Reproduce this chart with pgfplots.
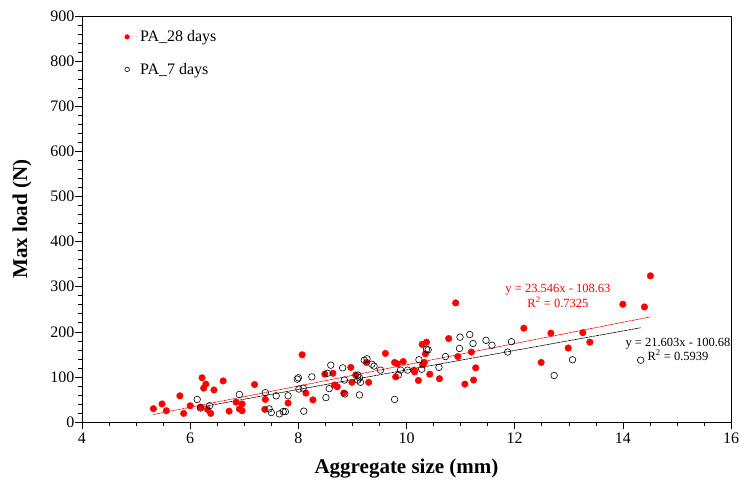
\documentclass[border=0pt]{standalone}
\usepackage{fontspec}
\setmainfont{Liberation Serif}
\usepackage{pgfplots}
\pgfplotsset{compat=1.18}
\begin{document}
\begin{tikzpicture}
\begin{axis}[
  scale only axis,
  width=649bp, height=406bp,
  xmin=4, xmax=16, ymin=0, ymax=900,
  xtick={4,6,...,16}, ytick={0,100,...,900},
  minor x tick num=3, minor y tick num=4,
  tick align=outside,
  major tick length=7bp, minor tick length=4bp,
  xtick pos=bottom, ytick pos=left,
  tick style={black, line width=0.5pt},
  axis line style={line width=0.8pt},
  /pgf/number format/assume math mode=true,
  xticklabel={\rmfamily\pgfmathprintnumber{\tick}},
  yticklabel={\rmfamily\pgfmathprintnumber{\tick}},
  ticklabel style={font=\fontsize{16bp}{18bp}\selectfont},
  yticklabel style={xshift=3bp},
  xlabel={\textbf{Aggregate size (mm)}},
  ylabel={\textbf{Max load (N)}},
  label style={font=\fontsize{21bp}{24bp}\selectfont},
  xlabel style={yshift=-9bp},
  ylabel style={yshift=12bp},
  legend image code/.code={\draw[#1] plot coordinates {(0bp,0bp)}; \path[draw=none] (-3bp,0bp) -- (11bp,0bp);},
  legend style={draw=none, fill=none, at={(axis cs:4.72,877)}, anchor=north west,
    font=\fontsize{16bp}{18bp}\selectfont, row sep=16bp},
  legend cell align=left,
]
\addplot[only marks, mark=*, mark size=3.3bp, draw=red, fill=red, legend image post style={mark size=2.3bp}] coordinates {
(5.32,29.5) (5.48,40) (5.56,25) (5.81,58) (5.88,19) (6.00,36) (6.22,98) (6.29,84)
(6.25,75) (6.19,33) (6.32,28) (6.38,19) (6.44,71) (6.61,91) (6.72,24) (6.85,44)
(6.96,40) (6.91,29) (6.96,25) (7.19,83) (7.39,50) (7.38,28) (7.81,42) (8.07,149)
(8.14,64) (8.27,49) (8.49,106) (8.64,108) (8.67,82) (8.72,78) (8.84,64) (8.97,121)
(8.99,88) (9.06,104) (9.30,88) (9.26,132) (9.61,152) (9.78,132) (9.83,129) (9.94,134)
(9.80,100) (10.14,115) (10.15,111) (10.22,92) (10.29,172) (10.37,177) (10.30,127)
(10.33,132) (10.35,151) (10.43,106) (10.61,96) (10.78,185) (10.91,264) (10.95,145)
(11.08,84) (11.20,155) (11.24,93) (11.28,120) (12.17,208) (12.49,132) (12.67,197)
(12.99,164) (13.26,198) (13.39,177) (14.00,261) (14.40,255) (14.51,324)
};
\addlegendentry{PA\_28 days}
\addplot[only marks, mark=o, mark size=3.3bp, draw=black, line width=0.6pt, legend image post style={mark size=2.3bp}] coordinates {
(6.13,50) (6.19,31) (6.36,36) (6.91,61) (7.39,65) (7.59,58) (7.81,58) (7.46,29)
(7.50,21) (7.65,18) (7.72,23) (7.76,23) (8.10,24) (7.98,95) (8.00,98) (8.01,73)
(8.09,75) (8.25,100) (8.51,54) (8.54,108) (8.60,126) (8.57,74) (8.82,120) (8.85,93)
(8.86,62) (9.10,104) (9.13,98) (9.10,93) (9.15,88) (9.13,60) (9.22,137) (9.27,140)
(9.36,128) (9.40,124) (9.52,115) (9.78,50) (9.85,104) (9.89,115) (10.02,115)
(10.23,138) (10.28,117) (10.37,161) (10.40,160) (10.60,121) (10.72,145) (10.99,188)
(10.98,163) (11.17,194) (11.23,174) (11.47,181) (11.58,170) (11.94,178) (11.87,155)
(12.73,103) (13.07,138) (14.33,137)
};
\addlegendentry{PA\_7 days}
\addplot[red, line width=0.6pt, dash pattern=on 3pt off 0.6pt, forget plot] coordinates {(5.32,16.6) (14.51,233.0)};
\addplot[black, line width=0.6pt, dash pattern=on 3pt off 0.6pt, forget plot] coordinates {(6.13,31.7) (14.33,208.9)};
\node[red, align=center, font=\fontsize{12.5bp}{14.5bp}\selectfont] at (axis cs:12.80,280) {y = 23.546x - 108.63\\R\textsuperscript{2} = 0.7325};
\node[black, align=center, font=\fontsize{12.5bp}{13.5bp}\selectfont] at (axis cs:15.02,161) {y = 21.603x - 100.68\\R\textsuperscript{2} = 0.5939};
\end{axis}
\pgfresetboundingbox
\path (current axis.south west) ++(-82bp,-62bp) rectangle ([shift={(8bp,16bp)}]current axis.north east);
\end{tikzpicture}
\end{document}
